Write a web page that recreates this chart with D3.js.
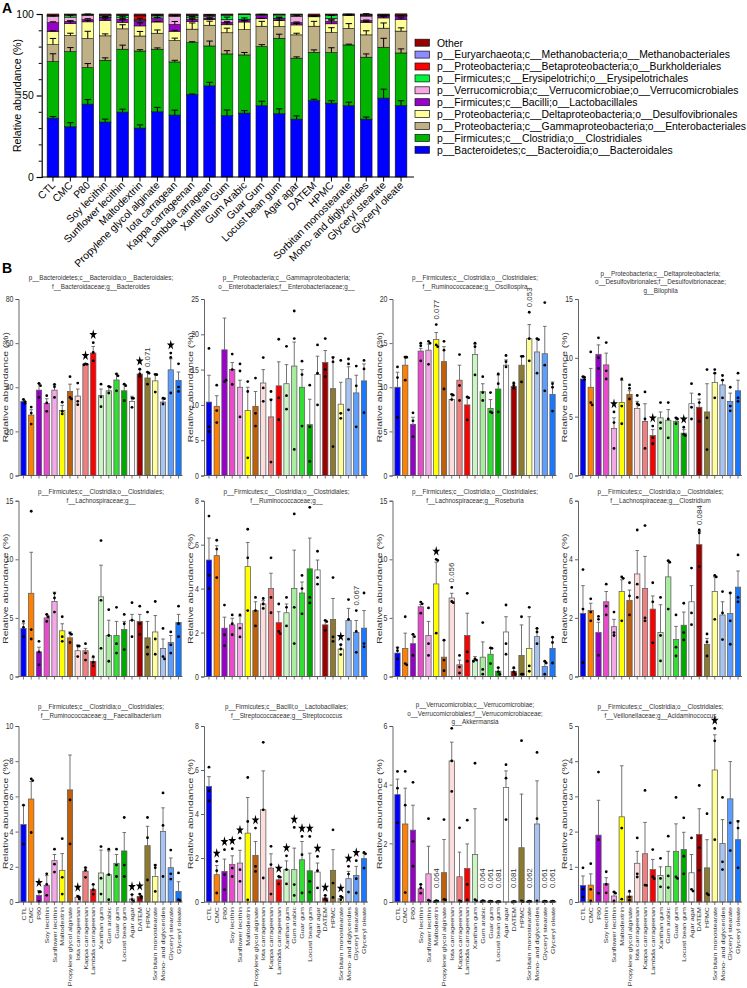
<!DOCTYPE html>
<html><head><meta charset="utf-8">
<script src="https://cdn.jsdelivr.net/npm/d3@7"></script>
<style>body{margin:0;background:#fff;} svg{display:block;font-family:"Liberation Sans",Arial,Helvetica,sans-serif;}</style>
</head><body><svg id="c" width="747" height="988"></svg>
<script>
// ---------------- DATA ----------------
const catsA = ["CTL","CMC","P80","Soy lecithin","Sunflower lecithin","Maltodextrin","Propylene glycol alginate","Iota carragean","Kappa carrageenan","Lambda carragean","Xanthan Gum","Gum Arabic","Guar Gum","Locust bean gum","Agar agar","DATEM","HPMC","Sorbitan monostearate","Mono- and diglycerides","Glyceryl stearate","Glyceryl oleate"];
const catsB = ["CTL","CMC","P80","Soy lecithin","Sunflower lecithin","Maltodextrin","Propylene glycol alginate","Iota carrageenan","Kappa carrageenan","Lambda carrageenan","Xanthan gum","Gum arabic","Guar gum","Locust bean gum","Agar agar","DATEM","HPMC","Sorbitain monostearate","Mono- and diglycerides","Glyceryl stearate","Glyceryl oleate"];

// Panel A: mean relative abundance (%) of each order, stacked bottom to top
const bacteroidales      = [36.1,30.8,44.7,33.7,39.8,30.0,40.0,38.0,50.6,55.9,37.6,39.2,43.7,38.8,35.5,46.9,45.3,43.7,35.5,48.4,43.8];
const clostridiales      = [34.7,46.1,22.4,37.9,38.6,47.3,38.4,32.6,31.8,24.5,37.9,35.7,36.3,46.3,37.4,29.6,31.0,37.3,38.0,31.2,32.3];
const enterobacteriales  = [10.4,9.8,17.8,15.0,12.5,9.2,9.8,13.1,8.3,12.7,13.0,15.5,12.5,7.2,14.3,16.0,12.3,10.1,13.7,11.7,13.4];
const desulfovibrionales = [8.2,7.5,10.3,9.4,4.0,6.2,6.9,5.7,4.6,3.4,4.9,4.7,4.6,3.6,6.1,5.8,5.4,7.9,7.7,6.3,7.2];
const lactobacillales    = [5.3,1.2,1.4,1.7,1.8,3.1,2.1,4.2,1.5,1.0,1.5,1.5,1.9,1.4,1.4,0.2,1.4,0.2,1.1,1.2,2.0];
const verrucomicrobiales = [3.7,2.7,2.5,0.5,1.0,0.1,1.0,4.8,0.9,1.1,1.6,0.1,0.1,0.1,3.9,0.1,1.9,0.1,2.7,0.1,0.1];
const erysipelotrichales = [0.5,1.2,0.3,0.8,1.5,0.6,1.0,0.5,1.2,0.4,2.8,2.9,0.4,2.0,0.8,0.3,2.0,0.3,0.5,0.3,0.3];
const burkholderiales    = [0.2,0.2,0.1,0.2,0.2,2.3,0.2,0.3,0.3,0.3,0.2,0.1,0.1,0.2,0.1,0.1,0.2,0.1,0.2,0.2,0.2];
const methanobacteriales = [0.2,0.2,0.1,0.2,0.2,0.2,0.1,0.2,0.2,0.1,0.1,0.1,0.1,0.1,0.1,0.1,0.1,0.1,0.1,0.1,0.1];
const otherTaxa          = [0.7,0.3,0.4,0.6,0.4,1.0,0.5,0.6,0.6,0.5,0.4,0.3,0.3,0.3,0.4,0.9,0.4,0.3,0.5,0.5,0.7];
// Panel A: SEM of each order
const errBacteroidales      = [1.0,2.5,2.8,1.8,1.8,2.0,2.7,3.0,0.3,2.2,3.5,1.5,2.8,3.0,2.0,0.8,1.5,2.2,1.3,5.5,3.0];
const errClostridiales      = [4.8,2.5,2.5,1.5,2.5,0.8,0.8,1.0,0.6,3.0,2.0,1.5,1.2,2.5,0.8,1.5,3.0,0.5,2.0,5.5,2.5];
const errEnterobacteriales  = [3.8,1.5,4.5,1.2,2.5,2.8,2.0,1.5,3.8,2.5,2.8,5.5,3.0,5.5,1.0,3.0,3.0,3.0,2.5,3.2,2.0];
const errDesulfovibrionales = [0.3,1.5,0.8,1.0,1.5,1.9,0.3,0.6,1.5,0.5,1.2,0.9,0.3,0.3,0.9,0.7,2.4,0.8,0.4,0.7,0.9];
const errLactobacillales    = [0.5,0.4,0.5,0.4,0.6,1.6,0.6,1.8,0.6,0.2,0.6,1.0,0.8,0.8,0.4,0.1,0.9,0.1,0.3,0.4,0.2];
const errVerrucomicrobiales = [0.5,1.2,0.9,0.2,0.9,0.0,1.1,0.6,0.8,0.8,1.6,0.0,0.0,0.0,0.6,0.0,1.8,0.0,1.5,0.0,0.0];

const taxaKeys   = ["Bacteroidales","Clostridiales","Enterobacteriales","Desulfovibrionales","Lactobacillales","Verrucomicrobiales","Erysipelotrichales","Burkholderiales","Methanobacteriales","Other"];
const taxaLabels = ["p__Bacteroidetes;c__Bacteroidia;o__Bacteroidales","p__Firmicutes;c__Clostridia;o__Clostridiales","p__Proteobacteria;c__Gammaproteobacteria;o__Enterobacteriales","p__Proteobacteria;c__Deltaproteobacteria;o__Desulfovibrionales","p__Firmicutes;c__Bacilli;o__Lactobacillales","p__Verrucomicrobia;c__Verrucomicrobiae;o__Verrucomicrobiales","p__Firmicutes;c__Erysipelotrichi;o__Erysipelotrichales","p__Proteobacteria;c__Betaproteobacteria;o__Burkholderiales","p__Euryarchaeota;c__Methanobacteria;o__Methanobacteriales","Other"];
const taxaColors = ["#0000ff","#00b400","#bfb086","#ffff99","#9900cc","#f5a8e2","#00f53a","#ff0000","#8c8cff","#990000"];
const valuesA = [bacteroidales,clostridiales,enterobacteriales,desulfovibrionales,lactobacillales,verrucomicrobiales,erysipelotrichales,burkholderiales,methanobacteriales,otherTaxa];
const errorsA = [errBacteroidales,errClostridiales,errEnterobacteriales,errDesulfovibrionales,errLactobacillales,errVerrucomicrobiales,null,null,null,null];
const ticksA = [0,50,100];

// Panel B colours per additive
const barColors = ["#0000ff","#ff8000","#9900cc","#e84ccc","#f4a8e8","#ffff00","#c0600a","#fcdcdc","#f08080","#ff0000","#ccf5c6","#a8eca0","#33dd33","#00aa00","#ffffff","#a00000","#8c7a30","#ffff99","#a8c4f0","#5c9eff","#1a78ff"];

const bacteroidesMean = [33.5,27.4,38.7,32.7,38.7,29.5,38.1,36.0,50.5,55.5,36.2,38.4,43.3,38.4,33.6,46.0,44.2,42.9,33.3,47.9,43.1];
const bacteroidesSem  = [0.8,2.4,3.0,2.1,2.4,2.3,3.3,3.2,0.2,3.0,3.0,2.0,2.8,3.0,2.3,2.2,2.7,3.1,1.4,5.0,3.8];
const bacteroidesDots = [[34.5,33.5,32.8],[31,28.3,23.3],[41.7,40.7,35.4],[36.2,32.9,29.1],[41.3,40.2,35.4],[33.2,29.1,27.9],[44.8,35.4,34.7],[41.9,33.6,32.1],[50.6,50.4,50.2],[60.2,55.8,52.0],[41.4,35.6,31.2],[40.4,40.1,37.4],[46,45.2,38.4],[41.4,40.7,33.9],[35.1,35,30.9],[48.2,46,44.9],[46.9,46.4,41.4],[45.8,45.7,37.8],[35.1,34.8,32.4],[55.5,53.5,37.4],[50.6,40.1,38.1]];

const enteroMean = [10.4,9.8,17.8,15.0,12.5,9.2,9.8,13.1,8.3,12.7,13.0,15.5,12.5,7.2,14.3,16.0,12.3,10.1,13.7,11.7,13.4];
const enteroSem  = [3.8,1.5,4.5,1.0,1.0,3.3,2.1,1.9,2.5,3.4,2.7,3.4,2.5,3.6,2.6,1.7,4.5,3.1,1.7,2.5,2.4];
const enteroDots = [[18,6.9,6.2],[12.8,9.2,7.5],[13.3,13.5],[17.2,15,12.9],[15.8,14.8,8.3],[13.3,11.9,2.5],[13.8,8.8,7],[16.7,12.4,10.5],[11.9,10.7,1.9],[19.3,11,7.9],[18.3,11.3,9.4],[23.3,19.4,3.7],[16.2,14.3,7],[12.8,6.9,2],[18.5,14.5,10],[19.4,15,14],[16.7,16.1,4.1],[16.3,8.8,8.1],[16.5,15.8,9.3],[15.5,12.7,6.9],[16.3,15.1,8.9]];

const oscilloMean = [10.0,12.5,5.8,14.1,14.2,15.4,12.9,8.6,10.8,8.0,13.7,9.5,7.6,9.8,12.5,10.1,12.5,15.5,14.0,13.8,9.2];
const oscilloSem  = [1.7,1.0,0.8,0.3,0.7,0.8,1.7,0.6,1.7,0.9,1.2,0.9,1.0,1.6,0.6,0.3,1.0,1.6,1.5,3.1,1.4];
const oscilloDots = [[12.3,11.1,6.6],[13.4,13.4,10.8],[7.1,6.2,4.4],[15,14.7,13],[15.2,15,12.6],[17.1,14.8,14.6],[15.2,14.2,9.8],[9.2,9.1,8.6],[13.7,10.2,8.5],[8.9,8.8,6.3],[15,14.6,11.4],[11.2,9.4,8.5],[9.4,7.2,7.1],[11.5,10.4,7.2],[13.6,12.9,12.3],[10.5,10.2,9.9],[13.5,13.5,10.6],[18.5,15.5,13],[15.5,15.4,11.6],[19.6,12.5,9.6],[10.4,10.0,7.3]];

const bilophilaMean = [8.2,7.5,10.3,9.4,4.0,6.2,6.9,5.7,4.6,3.4,4.9,4.7,4.6,3.6,6.1,5.8,5.4,7.9,7.7,6.3,7.2];
const bilophilaSem  = [0.2,1.6,0.8,1.0,0.9,1.9,0.3,0.6,1.5,0.5,0.5,0.9,0.3,0.3,0.9,0.7,2.4,0.8,0.4,0.7,0.9];
const bilophilaDots = [[8.4,8.35,8.15],[10.5,6.2,6],[11.7,10,9.1],[11.3,8.9,8.2],[5.4,4.5,2.3],[8.2,5.9,4.4],[7.7,7.4,6.5],[6.8,6.1,6],[7.1,4.8,2.3],[4.2,3.2,2.7],[6.2,4.5,4.0],[6.2,4.8,3.2],[4.9,4.8,4.4],[4.1,3.5,3.4],[7.8,5.8,4.8],[6.9,6.2,4.6],[9,4.9,2.2],[9,8.7,6.6],[8.5,8.1,6.6],[7.5,5.9,5.5],[8.7,6.6,6.3]];

const lachnoMean = [4.1,7.1,2.1,5.0,6.4,3.9,3.3,2.2,2.2,1.3,6.8,3.5,3.5,4.0,4.8,4.7,3.3,3.8,2.4,2.9,4.6];
const lachnoSem  = [0.4,3.5,0.4,0.3,0.8,0.6,0.5,0.5,0.2,0.3,2.7,1.3,1.2,0.7,0.5,0.6,1.4,1.4,0.8,0.6,0.7];
const lachnoDots = [[4.7,4.2,3.4],[14.1,4.0,3.2],[3.0,2.1,1.0],[5.3,5.1,4.7],[7.1,6.7,5.5],[5.1,3.4,3.0],[3.7,3.6,2.9],[2.6,2.6,1.7],[2.8,2.0,1.4],[1.7,1.2,0.9],[11.6,6.5,2.4],[5.7,3.5,1.3],[5.9,2.8,2.0],[5.3,4.5,2.3],[6.3,4.8,3.4],[6.0,4.5,3.6],[5.5,2.5,1.9],[6.4,3.2,1.9],[4.1,1.7,1.5],[3.8,2.7,2.0],[6.0,4.5,3.4]];

const ruminoMean = [5.3,5.5,2.2,2.35,2.4,5.0,3.0,3.3,4.0,2.45,2.9,4.0,3.8,4.9,4.85,2.35,2.6,1.25,2.55,2.0,2.2];
const ruminoSem  = [1.0,0.45,0.5,0.3,0.35,1.1,0.4,0.15,0.7,0.5,0.4,1.75,0.5,1.4,0.45,0.2,0.95,0.2,0.55,0.55,0.8];
const ruminoDots = [[7.3,4.6,4.0],[6.2,5.8,4.5],[3.25,1.9,1.4],[2.8,2.4,1.9],[2.8,2.2,1.8],[6.7,5.4,3.0],[3.6,3.0,2.3],[3.55,3.3,3.1],[5.4,3.6,2.9],[3.3,2.05,1.95],[3.6,3.15,2.3],[7.4,3.15,1.5],[4.6,4.0,2.85],[7.7,3.6,3.35],[5.7,4.5,4.2],[2.55,2.5,2.1],[4.5,1.8,1.6],[1.45,1.25,1.0],[3.5,2.6,1.7],[3.0,2.05,1.1],[3.8,1.5,1.35]];

const roseburiaMean = [2.0,2.4,2.8,5.95,3.5,7.9,1.65,6.7,1.0,3.5,1.4,1.65,1.9,0.45,3.8,0.43,1.8,2.4,3.4,0.85,2.4];
const roseburiaSem  = [0.5,1.3,0.8,0.2,1.2,1.85,1.45,0.4,0.4,1.9,0.3,1.3,0.5,0.3,1.3,0.27,2.6,2.7,0.7,0.45,0.95];
const roseburiaDots = [[2.45,2.2,1.5],[5.1,1.1,1.0],[3.6,3.4,1.8],[6.35,6.2,5.4],[5.85,2.8,1.8],[10,9.9,3.7],[3.1,1.4,0.5],[7.6,6.4,6.3],[1.8,0.8,0.3],[7.1,2.1,1.3],[1.5,1.4,1.3],[4.6,0.6,0.2],[2.45,2.4,1.1],[0.75,0.4,0.2],[6.1,2.8,1.9],[0.75,0.4,0.2],[5.1,0.2,0.2],[5.9,0.9,0.45],[4.1,3.8,2.8],[1.3,1.15,0.2],[3.35,2.9,1.15]];

const clostridiumMean = [2.15,2.25,1.5,2.55,1.7,2.9,2.6,3.5,3.0,2.3,1.5,3.4,1.26,1.75,2.55,4.5,1.1,2.9,2.1,2.15,3.05];
const clostridiumSem  = [0.95,0.25,0.35,0.35,0.25,0.4,0.35,0.8,1.1,0.45,0.95,0.55,0.45,0.45,0.55,0.45,0.2,0.5,0.45,0.7,0.55];
const clostridiumDots = [[3.65,2.3,0.47],[2.65,2.2,1.9],[2.05,1.95,0.72],[3.15,2.4,2.1],[2.2,1.5,1.4],[3.4,3.35,1.9],[3.2,2.75,2.1],[5.0,3.15,2.7],[5.15,2.0,1.9],[3.2,2.55,1.15],[2.7,1.4,0.53],[3.95,3.9,2.3],[2.1,1.0,0.7],[2.5,1.5,1.25],[3.7,2.17,1.77],[5.0,4.9,3.75],[1.45,1.18,0.7],[3.45,3.4,1.95],[2.9,2.17,1.26],[2.85,1.9,1.1],[4.15,2.7,2.55]];

const faecaliMean = [4.4,5.85,0.38,0.95,2.35,1.8,6.37,0.27,1.75,0.7,1.65,1.55,2.2,2.9,0.17,0.32,3.2,1.45,4.0,1.95,0.6];
const faecaliSem  = [1.1,1.0,0.27,0.55,0.35,0.95,1.98,0.11,0.2,0.3,1.3,1.35,0.5,1.05,0.25,0.13,1.1,0.65,1.35,0.55,0.55];
const faecaliDots = [[5.5,3.3],[7.0,6.9,3.95],[0.57,0.57,0.04],[1.6,1.0,0.38],[3.0,2.15,1.7],[3.6,1.4,0.45],[5.8,3.3],[0.32,0.27,0.17],[1.95,1.8,1.4],[1.0,0.7,0.45],[3.15,1.35,0.45],[3.0,1.55,0.13],[3.0,2.1,1.45],[4.8,2.1,1.45],[0.42,0.13,0.04],[0.45,0.32,0.23],[4.8,3.65,1.25],[2.1,1.95,0.6],[6.2,4.35,1.45],[2.95,1.6,1.3],[1.65,0.13,0.08]];

const streptoMean = [5.25,1.24,1.39,1.7,1.77,3.13,2.12,4.19,1.54,1.01,1.47,1.47,1.92,1.42,1.36,0.18,1.44,0.15,1.06,1.2,1.97];
const streptoSem  = [0.45,0.42,0.56,0.4,0.58,1.62,0.63,1.77,0.65,0.15,0.4,0.98,0.83,0.8,0.41,0.12,0.94,0.11,0.33,0.42,0.24];
const streptoDots = [[6.13,5.05,4.6],[1.85,1.42,0.41],[2.38,1.24,0.56],[2.42,1.54,1.16],[2.9,1.47,0.94],[5.66,3.66,0.1],[3.36,1.62,1.39],[7.26,4.19,1.09],[2.53,1.7,0.36],[1.16,1.13,0.82],[2.1,1.47,0.82],[3.39,0.79,0.3],[2.98,2.15,0.41],[2.98,0.94,0.45],[2.07,1.42,0.64],[0.3,0.15,0.05],[3.28,0.86,0.21],[0.26,0.21,0.1],[1.62,1.27,0.45],[1.88,1.06,0.41],[2.25,2.19,1.54]];

const akkerMean = [3.66,2.66,2.45,0.45,0.96,0.03,1.0,4.81,0.86,1.14,1.62,0.03,0.02,0.01,3.9,0.01,1.85,0.02,2.66,0.02,0.02];
const akkerSem  = [0.53,1.22,0.85,0.15,0.94,0.02,1.13,0.64,0.84,0.84,1.56,0.02,0.01,0.01,0.57,0.01,1.83,0.01,1.47,0.01,0.01];
const akkerDots = [[4.45,3.88,2.7],[4.45,3.3,0.32],[4.08,2.07,1.22],[0.6,0.48,0.3],[2.84,0.06,0.03],[0.05,0.03,0.01],[2.81,0.09,0.07],[5.92,4.81,3.77],[2.53,0.05,0.02],[2.79,0.6,0.07],[4.73,0.08,0.04],[0.05,0.03,0.01],[0.03,0.02,0.01],[0.02,0.01,0.0],[4.68,4.22,2.81],[0.02,0.01,0.0],[5.5,0.04,0.01],[0.03,0.02,0.01],[5.1,2.84,0.04],[0.03,0.02,0.01],[0.03,0.02,0.01]];

const acidaMean = [0.47,0.48,1.9,0.52,0.17,2.42,0.17,1.1,1.37,0.92,0.75,1.01,1.44,1.49,0.83,1.92,0.97,3.75,1.66,2.93,1.77];
const acidaSem  = [0.27,0.32,0.99,0.17,0.11,1.45,0.11,0.34,0.89,0.29,0.25,0.43,0.78,0.49,0.52,0.73,0.8,1.0,0.68,1.06,0.54];
const acidaDots = [[0.97,0.36,0.14],[1.09,0.36,0.03],[3.69,1.77,0.25],[0.86,0.5,0.26],[0.29,0.25,0.03],[2.1,0.08],[0.31,0.14,0.05],[1.82,0.8,0.71],[3.17,0.48,0.47],[1.49,0.72,0.66],[1.24,0.67,0.43],[1.87,0.74,0.41],[2.97,0.71,0.67],[2.39,1.3,0.8],[1.82,0.36,0.31],[3.31,1.54,0.9],[2.51,0.24,0.2],[4.93,4.58,1.77],[2.97,1.14,0.92],[2.25,1.46],[2.29,2.1,0.97]];

const panelsB = [
  {title:["p__Bacteroidetes;c__Bacteroidia;o__Bacteroidales;","f__Bacteroidaceae;g__Bacteroides"], max:80, step:20, mean:bacteroidesMean, sem:bacteroidesSem, dots:bacteroidesDots, stars:[8,9,15,19], pvals:[[16,"0.071"]]},
  {title:["p__Proteobacteria;c__Gammaproteobacteria;","o__Enterobacteriales;f__Enterobacteriaceae;g__"], max:25, step:5, mean:enteroMean, sem:enteroSem, dots:enteroDots, stars:[], pvals:[]},
  {title:["p__Firmicutes;c__Clostridia;o__Clostridiales;","f__Ruminococcaceae;g__Oscillospira"], max:20, step:5, mean:oscilloMean, sem:oscilloSem, dots:oscilloDots, stars:[], pvals:[[5,"0.077"],[17,"0.053"]]},
  {title:["p__Proteobacteria;c__Deltaproteobacteria;","o__Desulfovibrionales;f__Desulfovibrionaceae;","g__Bilophila"], max:15, step:5, mean:bilophilaMean, sem:bilophilaSem, dots:bilophilaDots, stars:[4,9,13], pvals:[]},
  {title:["p__Firmicutes;c__Clostridia;o__Clostridiales;","f__Lachnospiraceae;g__"], max:15, step:5, mean:lachnoMean, sem:lachnoSem, dots:lachnoDots, stars:[], pvals:[]},
  {title:["p__Firmicutes;c__Clostridia;o__Clostridiales;","f__Ruminococcaceae;g__"], max:8, step:2, mean:ruminoMean, sem:ruminoSem, dots:ruminoDots, stars:[17], pvals:[[19,"0.067"]]},
  {title:["p__Firmicutes;c__Clostridia;o__Clostridiales;","f__Lachnospiraceae;g__Roseburia"], max:15, step:5, mean:roseburiaMean, sem:roseburiaSem, dots:roseburiaDots, stars:[5], pvals:[[7,"0.056"]]},
  {title:["p__Firmicutes;c__Clostridia;o__Clostridiales;","f__Lachnospiraceae;g__Clostridium"], max:6, step:2, mean:clostridiumMean, sem:clostridiumSem, dots:clostridiumDots, stars:[], pvals:[[15,"0.084"]]},
  {title:["p__Firmicutes;c__Clostridia;o__Clostridiales;","f__Ruminococcaceae;g__Faecalibacterium"], max:10, step:2, mean:faecaliMean, sem:faecaliSem, dots:faecaliDots, stars:[2,7,14,15], pvals:[]},
  {title:["p__Firmicutes;c__Bacilli;o__Lactobacillales;","f__Streptococcaceae;g__Streptococcus"], max:8, step:2, mean:streptoMean, sem:streptoSem, dots:streptoDots, stars:[1,2,3,4,6,9,10,11,12,13,14,15,17,18,19], pvals:[]},
  {title:["p__Verrucomicrobia;c__Verrucomicrobiae;","o__Verrucomicrobiales;f__Verrucomicrobiaceae;","g__Akkermansia"], max:6, step:2, mean:akkerMean, sem:akkerSem, dots:akkerDots, stars:[], pvals:[[5,"0.064"],[11,"0.064"],[12,"0.061"],[13,"0.081"],[15,"0.081"],[17,"0.062"],[19,"0.061"],[20,"0.061"]]},
  {title:["p__Firmicutes;c__Clostridia;o__Clostridiales;","f__Veillonellaceae;g__Acidaminococcus"], max:5, step:1, mean:acidaMean, sem:acidaSem, dots:acidaDots, stars:[17], pvals:[]}
];

// ---------------- DRAW ----------------
const svg = d3.select("#c");
svg.append("rect").attr("width",747).attr("height",988).attr("fill","#fff");

// ===== Panel A =====
const gA = svg.append("g");
const xA = d3.scaleBand().domain(catsA).range([44,410]).paddingInner(0.33).paddingOuter(0.18);
const yA = d3.scaleLinear().domain([0,100]).range([177,14]);
const tableA = catsA.map((c,i)=>{const o={cat:c}; taxaKeys.forEach((k,j)=>o[k]=valuesA[j][i]); return o;});
const stackA = d3.stack().keys(taxaKeys)(tableA);

stackA.forEach((ser,j)=>{
  gA.append("g").selectAll("rect").data(ser).join("rect")
    .attr("x",d=>xA(d.data.cat)).attr("width",xA.bandwidth())
    .attr("y",d=>yA(d[1])).attr("height",d=>Math.max(0,yA(d[0])-yA(d[1])))
    .attr("fill",taxaColors[j]).attr("stroke","#111").attr("stroke-width",0.6);
});
stackA.forEach((ser,j)=>{
  const err = errorsA[j]; if(!err) return;
  const g = gA.append("g").attr("stroke","#000").attr("stroke-width",1);
  ser.forEach((d,i)=>{
    if(err[i]<=0) return;
    const cx = xA(d.data.cat)+xA.bandwidth()/2, y0=yA(d[1]), y1=yA(d[1]+err[i]);
    g.append("line").attr("x1",cx).attr("x2",cx).attr("y1",y0).attr("y2",y1);
    g.append("line").attr("x1",cx-3.2).attr("x2",cx+3.2).attr("y1",y1).attr("y2",y1);
  });
});
// axes A
const axA = gA.append("g").attr("transform","translate(41.7,0)")
  .call(d3.axisLeft(yA).tickValues(ticksA).tickSize(5).tickPadding(3).tickFormat(d3.format("d")));
axA.select(".domain").attr("stroke","#000").attr("stroke-width",1.2);
axA.selectAll(".tick line").attr("stroke","#000").attr("stroke-width",1.2);
axA.selectAll("text").attr("font-size",10.4).attr("fill","#000").attr("font-family","Liberation Sans, Arial, sans-serif");
gA.append("g").attr("transform","translate(41.7,0)")
  .call(d3.axisLeft(yA).tickValues(d3.range(10,100,10).filter(v=>v!==50)).tickSize(3).tickFormat(""))
  .call(g=>{g.select(".domain").remove(); g.selectAll("line").attr("stroke","#000").attr("stroke-width",1);});
gA.append("line").attr("x1",41.7).attr("x2",414).attr("y1",177).attr("y2",177).attr("stroke","#000").attr("stroke-width",1.2);
gA.append("g").selectAll("line").data(catsA).join("line")
  .attr("x1",d=>xA(d)+xA.bandwidth()/2).attr("x2",d=>xA(d)+xA.bandwidth()/2)
  .attr("y1",177).attr("y2",181.5).attr("stroke","#000").attr("stroke-width",1);
gA.append("g").selectAll("text").data(catsA).join("text")
  .attr("transform",d=>`translate(${xA(d)+xA.bandwidth()/2+3},${186}) rotate(-45)`)
  .attr("text-anchor","end").attr("font-size",10.4).attr("fill","#000").text(d=>d);
gA.append("text").attr("transform","translate(21,95.5) rotate(-90)").attr("text-anchor","middle")
  .attr("font-size",10.6).attr("fill","#000").text("Relative abundance (%)");
svg.append("text").attr("x",2).attr("y",13).attr("font-size",14).attr("font-weight","bold").text("A");
// legend
const legOrder = d3.range(taxaKeys.length).reverse();
const gL = svg.append("g");
legOrder.forEach((j,r)=>{
  const yy = 42.7 + r*11.9;
  gL.append("rect").attr("x",415).attr("y",yy-3.5).attr("width",14.5).attr("height",7)
    .attr("fill",taxaColors[j]).attr("stroke","#111").attr("stroke-width",0.7);
  gL.append("text").attr("x",437).attr("y",yy+3.8).attr("font-size",10.4).attr("fill","#000").text(taxaLabels[j]);
});

// ===== Panel B =====
svg.append("text").attr("x",2).attr("y",273).attr("font-size",14).attr("font-weight","bold").text("B");
const colsB = [18.5,204,392.5,578];
const rowsB = [{top:299,bottom:475.5,t2:278,t3:273.5},{top:500.7,bottom:676.5,t2:492,t3:492},{top:726,bottom:902,t2:707,t3:705}];
const FT = 6.3, ST = 1.1;   // titles
const FY = 7.5, SYL = 1.38; // y label
const FK = 7, SK = 1.2;     // tick labels
const FX = 6.1, SX = 1.17;  // x labels
const FP = 6.6, SP = 1.2;   // p-values

panelsB.forEach((p,idx)=>{
  const ox = colsB[idx%4], row = rowsB[Math.floor(idx/4)], last = Math.floor(idx/4)===2;
  const g = svg.append("g");
  const x = d3.scaleBand().domain(catsB).range([ox,ox+165]).paddingInner(0.316).paddingOuter(0.3);
  const y = d3.scaleLinear().domain([0,p.max]).range([row.bottom,row.top]);
  const cx = j => x(catsB[j]) + x.bandwidth()/2;
  // bars
  g.append("g").selectAll("rect").data(p.mean).join("rect")
    .attr("x",(d,j)=>x(catsB[j])).attr("width",x.bandwidth())
    .attr("y",d=>y(d)).attr("height",d=>y(0)-y(d))
    .attr("fill",(d,j)=>barColors[j]).attr("stroke","#5c5c5c").attr("stroke-width",0.75);
  // error bars
  const ge = g.append("g").attr("stroke","#5c5c5c").attr("stroke-width",0.85);
  p.mean.forEach((m,j)=>{
    const y0=y(m), y1=y(m+p.sem[j]);
    ge.append("line").attr("x1",cx(j)).attr("x2",cx(j)).attr("y1",y0).attr("y2",y1);
    ge.append("line").attr("x1",cx(j)-1.8).attr("x2",cx(j)+1.8).attr("y1",y1).attr("y2",y1);
  });
  // dots
  const gd = g.append("g").attr("fill","#000");
  p.dots.forEach((arr,j)=>{
    const placed=[];
    arr.forEach(v=>{
      const yy=y(v); let dx=0;
      const near = placed.filter(q=>Math.abs(q-yy)<2.4).length;
      if(near===1) dx=1.5; else if(near>=2) dx=-1.5;
      placed.push(yy);
      gd.append("circle").attr("cx",cx(j)+dx).attr("cy",yy).attr("r",1.4);
    });
  });
  const topOf = j => y(Math.max(p.mean[j]+p.sem[j], d3.max(p.dots[j])));
  // stars
  p.stars.forEach(j=>{
    g.append("path").attr("d",d3.symbol().type(d3.symbolStar).size(19)())
      .attr("transform",`translate(${cx(j)},${topOf(j)-8}) scale(1,1.3)`).attr("fill","#000");
  });
  // p-values
  p.pvals.forEach(([j,t])=>{
    const yb = Math.min(topOf(j)-5, row.bottom-14);
    g.append("text").attr("transform",`translate(${cx(j)+2.3},${yb}) scale(1,${SP}) rotate(-90)`)
      .attr("font-size",FP).attr("fill","#333").attr("text-anchor","start").text(t);
  });
  // y axis
  const ay = g.append("g").attr("transform",`translate(${ox},0)`)
    .call(d3.axisLeft(y).tickValues(d3.range(0,p.max+p.step/2,p.step)).tickSize(3).tickPadding(2).tickFormat(d3.format("d")));
  ay.select(".domain").attr("stroke","#555").attr("stroke-width",0.9);
  ay.selectAll(".tick line").attr("stroke","#555").attr("stroke-width",0.9);
  ay.selectAll("text").attr("font-size",FK).attr("fill","#333").attr("font-family","Liberation Sans, Arial, sans-serif")
    .attr("transform",`scale(1,${SK})`);
  // x axis
  g.append("line").attr("x1",ox).attr("x2",ox+164).attr("y1",row.bottom).attr("y2",row.bottom).attr("stroke","#555").attr("stroke-width",0.9);
  g.append("g").selectAll("line").data(catsB).join("line")
    .attr("x1",(d,j)=>cx(j)).attr("x2",(d,j)=>cx(j)).attr("y1",row.bottom).attr("y2",row.bottom+3)
    .attr("stroke","#555").attr("stroke-width",0.8);
  if(last){
    g.append("g").selectAll("text").data(catsB).join("text")
      .attr("transform",(d,j)=>`translate(${cx(j)+2.2},${row.bottom+5}) scale(1,${SX}) rotate(-90)`)
      .attr("text-anchor","end").attr("font-size",FX).attr("fill","#333").text(d=>d);
  }
  // y label
  g.append("text").attr("transform",`translate(${ox-11},${(row.top+row.bottom)/2}) scale(1,${SYL}) rotate(-90)`)
    .attr("text-anchor","middle").attr("font-size",FY).attr("fill","#333").text("Relative abundance (%)");
  // title
  const t0 = p.title.length===3 ? row.t3 : row.t2;
  p.title.forEach((line,k)=>{
    g.append("text").attr("transform",`translate(${ox+82.5},${t0+k*8.5+2.4}) scale(1,${ST})`)
      .attr("text-anchor","middle").attr("font-size",FT).attr("fill","#333").text(line);
  });
});
</script></body></html>
